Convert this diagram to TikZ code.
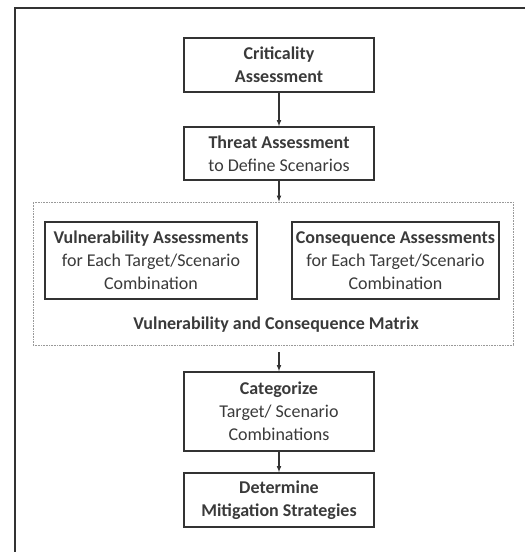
\documentclass[tikz,border=0pt]{standalone}
\usepackage{fontspec}
\setmainfont{Carlito}
\usetikzlibrary{positioning, arrows, calc}
\definecolor{boxgray}{HTML}{333333}
\definecolor{txtgray}{HTML}{3A3A3A}
\definecolor{dotgray}{HTML}{999999}
\tikzset{
    stepbox/.style={draw=boxgray, line width=1.6pt, align=center, text=txtgray,
        inner sep=0pt, font=\fontsize{18}{23}\selectfont},
    flow/.style={draw=boxgray, line width=1.1pt, -latex}
}

\begin{document}
\begin{tikzpicture}[x=1pt, y=-1pt]
        \useasboundingbox (0,0) rectangle (525,552);
        \draw[boxgray, line width=2pt] (15,552) -- (15,8) -- (525,8); % frame

        \node[stepbox, minimum width=190pt, minimum height=54pt] (crit) at (279, 65) {\textbf{Criticality}\\\textbf{Assessment}}; % criticality
        \node[stepbox, minimum width=190pt, minimum height=53pt] (threat) at (279, 153.5) {\textbf{Threat Assessment}\\to Define Scenarios}; % threat
        \node[draw=dotgray, densely dotted, line width=0.6pt, minimum width=480pt, minimum height=143pt, inner sep=0pt] (mat) at (273, 273.5) {}; % matrix
        \node[stepbox, minimum width=212pt, minimum height=77pt] (vul) at (151, 260.5) {\textbf{Vulnerability Assessments}\\for Each Target/Scenario\\Combination}; % vulnerability
        \node[stepbox, minimum width=207pt, minimum height=77pt] (con) at (395.5, 260.5) {\textbf{Consequence Assessments}\\for Each Target/Scenario\\Combination}; % consequence
        \node[text=txtgray, font=\fontsize{18}{23}\selectfont\bfseries] (matlabel) at (276, 325) {Vulnerability and Consequence Matrix}; % label
        \node[stepbox, minimum width=190pt, minimum height=79pt] (cat) at (279, 411.5) {\textbf{Categorize}\\Target/ Scenario\\Combinations}; % categorize
        \node[stepbox, minimum width=190pt, minimum height=54pt] (det) at (279, 500) {\textbf{Determine}\\\textbf{Mitigation Strategies}}; % determine

        \draw[flow] (crit) -- (threat);
        \draw[flow] (threat.south) -- (threat.south |- mat.north);
        \draw[flow] ($(mat.south -| cat.north)+(0,7)$) -- (cat);
        \draw[flow] (cat) -- (det);
    \end{tikzpicture}
\end{document}
